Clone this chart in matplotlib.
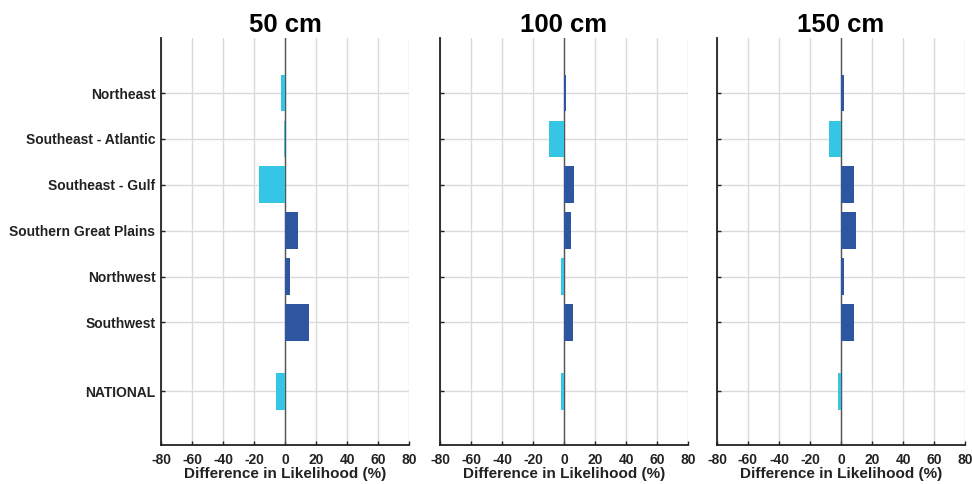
import matplotlib
matplotlib.use("Agg")
from matplotlib import pyplot as plt
import numpy as np

plt.rcParams['font.family'] = ['Liberation Sans', 'DejaVu Sans']
plt.rcParams['font.weight'] = 'bold'
plt.rcParams['axes.unicode_minus'] = False

regions = ["Northeast", "Southeast - Atlantic", "Southeast - Gulf",
           "Southern Great Plains", "Northwest", "Southwest", "NATIONAL"]
region_pos = [1, 2, 3, 4, 5, 6, 7.5]

depths = ["50 cm", "100 cm", "150 cm"]
diff_50 = [-2.5, -0.7, -16.5, 8.6, 3.0, 15.5, -5.6]
diff_100 = [1.3, -9.5, 6.7, 4.5, -2.2, 5.8, -2.2]
diff_150 = [2.1, -7.5, 8.2, 9.7, 1.7, 8.2, -1.7]
all_diffs = [diff_50, diff_100, diff_150]

xticks = [-80, -60, -40, -20, 0, 20, 40, 60, 80]

neg_color = "#35C6E6"
pos_color = "#2D55A0"

fig = plt.figure(figsize=(9.72, 4.84), dpi=100)
lefts = [161 / 972, 440 / 972, 717 / 972]

for i, (depth, vals) in enumerate(zip(depths, all_diffs)):
    ax = fig.add_axes([lefts[i], 39 / 484, 248 / 972, 407 / 484])
    vals = np.array(vals)
    colors = [pos_color if v > 0 else neg_color for v in vals]
    ax.barh(region_pos, vals, height=0.8, color=colors, zorder=3)
    ax.axvline(0, color="#555555", lw=1, zorder=2)

    ax.set_xlim(-80, 80)
    ax.set_ylim(8.67, -0.2)
    ax.set_xticks(xticks)
    ax.set_yticks(region_pos)
    if i == 0:
        ax.set_yticklabels(regions)
    else:
        ax.set_yticklabels([])
    ax.grid(True, color="#DADADA", lw=1, zorder=0)
    ax.set_axisbelow(True)

    for s in ["top", "right"]:
        ax.spines[s].set_visible(False)
    for s in ["left", "bottom"]:
        ax.spines[s].set_linewidth(1.3)
        ax.spines[s].set_color("#222222")

    ax.tick_params(direction="in", length=3, width=1, labelsize=10, color="#222222")
    ax.tick_params(axis="x", pad=6)
    ax.tick_params(axis="y", pad=4)
    for lab in ax.get_xticklabels() + ax.get_yticklabels():
        lab.set_fontweight("bold")
        lab.set_color("#222222")

    ax.set_xlabel("Difference in Likelihood (%)", fontsize=11, fontweight="bold",
                  labelpad=0, color="#222222")
    ax.set_title(depth, fontsize=18.5, fontweight="bold", pad=4)

plt.savefig("out.png", dpi=100)
